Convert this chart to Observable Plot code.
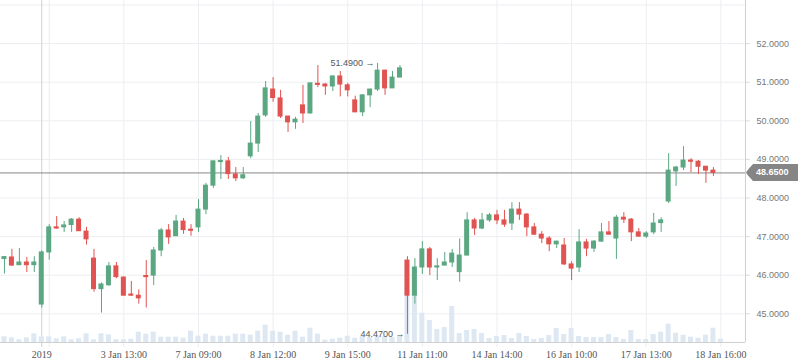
<!DOCTYPE html>
<html><head><meta charset="utf-8">
<script src="https://cdn.jsdelivr.net/npm/d3@7"></script>
<script src="https://cdn.jsdelivr.net/npm/@observablehq/plot@0.6"></script>
<style>body{margin:0;background:#fff} svg{display:block}</style>
</head><body><div id="chart"></div>
<script>
// candle data (index = hourly bar)
const opens  = [46.42,46.46,46.26,46.33,46.26,45.24,46.59,47.24,47.24,47.30,47.44,47.13,46.43,45.64,45.74,46.23,45.94,45.50,45.47,45.98,
  45.99,46.64,47.16,47.01,47.39,47.18,47.24,47.70,48.32,48.93,48.95,48.61,48.51,49.08,49.41,50.14,50.81,50.58,50.11,49.96,
  50.40,50.19,50.96,50.94,50.89,51.15,50.92,50.53,50.22,50.66,50.81,51.30,50.84,51.12,46.38,45.47,46.20,46.67,46.20,46.25,
  46.33,46.08,46.51,47.42,47.21,47.42,47.55,47.42,47.34,47.70,47.57,47.24,47.05,46.95,46.80,46.77,46.28,46.20,46.85,46.69,
  46.87,47.11,46.95,47.49,47.44,47.11,47.00,47.11,47.35,47.91,48.69,48.79,48.97,48.94,48.81,48.71];
const highs  = [46.48,46.67,46.69,46.46,46.48,46.63,47.31,47.52,47.39,47.47,47.49,47.24,46.67,45.80,46.33,46.33,45.95,45.84,45.62,46.38,
  46.72,47.21,47.31,47.55,47.47,47.31,47.96,48.38,48.96,49.10,49.05,48.79,48.79,49.98,50.19,51.02,51.12,50.79,50.12,50.09,
  50.92,50.98,51.43,50.97,51.16,51.28,50.97,50.64,50.67,50.82,51.49,51.31,51.28,51.43,46.48,46.43,46.87,46.72,46.43,46.59,
  46.67,46.94,47.62,47.47,47.60,47.60,47.68,47.68,47.88,47.88,47.60,47.34,47.13,47.00,46.88,46.95,46.35,47.18,46.93,46.90,
  47.34,47.39,47.55,47.62,47.47,47.21,47.13,47.60,47.49,49.15,48.82,49.33,49.02,48.97,48.82,48.79];
const lows   = [46.03,46.23,46.25,46.07,46.07,45.15,46.39,47.19,47.11,47.11,47.14,46.78,45.56,45.02,45.71,45.91,45.46,45.45,45.25,45.15,
  45.73,46.48,46.80,47.01,47.06,47.01,47.11,47.57,48.25,48.48,48.48,48.43,48.48,49.02,49.18,50.09,50.48,50.06,49.70,49.78,
  49.93,50.18,50.86,50.66,50.76,50.62,50.62,50.21,50.11,50.34,50.76,50.66,50.84,51.12,44.47,45.25,46.02,45.99,45.86,46.24,
  46.20,45.82,46.50,47.03,47.18,47.37,47.31,47.24,47.16,47.42,47.00,47.03,46.82,46.61,46.69,46.25,45.86,46.07,46.48,46.59,
  46.86,47.04,46.41,47.34,46.87,46.98,46.95,47.05,47.11,47.86,48.30,48.71,48.66,48.61,48.38,48.56];
const closes = [46.47,46.25,46.33,46.26,46.33,46.59,47.24,47.21,47.29,47.44,47.14,46.93,45.64,45.76,46.23,45.95,45.47,45.47,45.40,45.95,
  46.64,47.16,46.98,47.39,47.17,47.15,47.70,48.32,48.95,48.96,48.62,48.51,48.59,49.41,50.11,50.84,50.59,50.11,49.96,50.03,
  50.19,50.97,50.93,50.89,51.15,50.94,50.79,50.22,50.66,50.81,51.30,50.84,51.12,51.36,45.47,46.20,46.67,46.20,46.23,46.33,
  46.56,46.51,47.42,47.21,47.42,47.55,47.42,47.31,47.70,47.57,47.24,47.05,46.95,46.80,46.87,46.28,46.17,46.85,46.69,46.87,
  47.11,47.05,47.49,47.44,47.11,47.00,47.08,47.34,47.42,48.71,48.79,48.97,48.94,48.81,48.71,48.65];
const volumes = [114,94,54,94,174,114,114,74,114,54,74,174,54,174,154,54,54,66,206,166,
  206,106,106,106,86,226,126,166,126,126,126,166,166,146,226,346,226,206,146,226,
  106,286,166,46,66,86,126,86,120,100,120,120,100,120,1100,1100,586,440,260,300,
  720,180,240,260,180,80,120,140,80,180,120,60,80,140,280,160,280,120,100,100,
  100,160,100,60,240,60,60,160,206,366,186,146,106,86,146,286,66];

const tickIndex  = [5,16,26,36,46,56,66,76,86,96];
const tickLabels = ["2019","3 Jan 13:00","7 Jan 09:00","8 Jan 12:00","9 Jan 15:00","11 Jan 11:00","14 Jan 14:00","16 Jan 10:00","17 Jan 13:00","18 Jan 16:00"];
const gridIndex  = [6,16,26,36,46,56,66,76,86,96];
const yearIndex  = 5;
const yTicks     = [45,46,47,48,49,50,51,52];
const yGrid      = [45,46,47,48,49,50,51,52,53];
const lastPrice  = 48.65;
const notes      = [{i:50, v:51.49, label:"51.4900 \u2192"}, {i:54, v:44.47, label:"44.4700 \u2192"}];

const candles = opens.map((o,i)=>({i, open:o, high:highs[i], low:lows[i], close:closes[i]}));
const up = candles.filter(d=>d.close>=d.open);
const down = candles.filter(d=>d.close<d.open);
const GREEN = "#5aa782", RED = "#e05350";

const yMin = 44.257, yMax = 53.117;
const xMin = -0.53, xMax = 99.3;
const plotH = 342;
const volToY = v => yMin + (v/20) * (yMax-yMin)/plotH;
const vols = volumes.map((v,i)=>({i, y2: volToY(v)}));
const bw = 0.335;
const belowY = yMin - 5*(yMax-yMin)/plotH;

const chart = Plot.plot({
  width: 798, height: 363,
  marginLeft: 0, marginRight: 53, marginTop: 0, marginBottom: 21,
  x: {type:"linear", domain:[xMin,xMax], axis:null, label:null},
  y: {domain:[yMin,yMax], axis:null, label:null},
  style: {background:"#fff", fontFamily:"'Liberation Sans', Arial, sans-serif", fontSize:"9px", overflow:"visible"},
  marks: [
    Plot.ruleY(yGrid, {stroke:"#eceef1"}),
    Plot.ruleX(gridIndex, {y1: belowY, y2: yMax, stroke:"#eceef1"}),
    Plot.ruleX([yearIndex], {y1: belowY, y2: yMax, stroke:"#d0d0d0"}),
    Plot.rect(vols, {x1:d=>d.i-bw, x2:d=>d.i+bw, y1:yMin, y2:"y2", fill:"#dde8f2"}),
    Plot.ruleY([lastPrice], {stroke:"#888"}),
    Plot.ruleX(up, {x:"i", y1:"low", y2:"high", stroke:GREEN}),
    Plot.ruleX(down, {x:"i", y1:"low", y2:"high", stroke:RED}),
    Plot.rect(up, {x1:d=>d.i-bw, x2:d=>d.i+bw, y1:"open", y2:"close", fill:GREEN, insetTop:-0.5, insetBottom:-0.5}),
    Plot.rect(down, {x1:d=>d.i-bw, x2:d=>d.i+bw, y1:"open", y2:"close", fill:RED, insetTop:-0.5, insetBottom:-0.5}),
    Plot.ruleY([yMin], {stroke:"#cfcfcf"}),
    Plot.ruleX([xMax], {stroke:"#cfcfcf"}),
    Plot.axisX(tickIndex, {label:null, tickSize:0, tickPadding:8, tickFormat:(d,k)=>tickLabels[k], fontFamily:"'Liberation Serif', 'Times New Roman', serif", fontSize:10, fill:"#555"}),
    Plot.axisY(yTicks, {label:null, anchor:"right", tickSize:4, tickPadding:7, tickFormat:d=>d.toFixed(4), stroke:"#dcdcdc", fill:"#777", fontSize:9}),
    Plot.text(notes, {x:"i", y:"v", text:"label", textAnchor:"end", dx:-3, fill:"#555", fontSize:9})
  ]
});
document.getElementById("chart").appendChild(chart);

// last price tag
const svg = d3.select(chart);
const yp = chart.scale("y").apply(lastPrice);
const x0 = chart.scale("x").apply(xMax);
svg.append("path")
  .attr("d", `M${x0+1},${yp} Q${x0+2},${yp-2} ${x0+8},${yp-8.5} H798 V${yp+8.5} H${x0+8} Q${x0+2},${yp+2} ${x0+1},${yp} Z`)
  .attr("fill", "#858585");
svg.append("text")
  .attr("x", x0+11).attr("y", yp).attr("dy", "0.34em")
  .attr("text-anchor", "start")
  .attr("fill", "#fff").attr("font-weight", "bold").attr("font-size", 9)
  .attr("font-family", "'Liberation Sans', Arial, sans-serif")
  .text(lastPrice.toFixed(4));
</script>
</body></html>
